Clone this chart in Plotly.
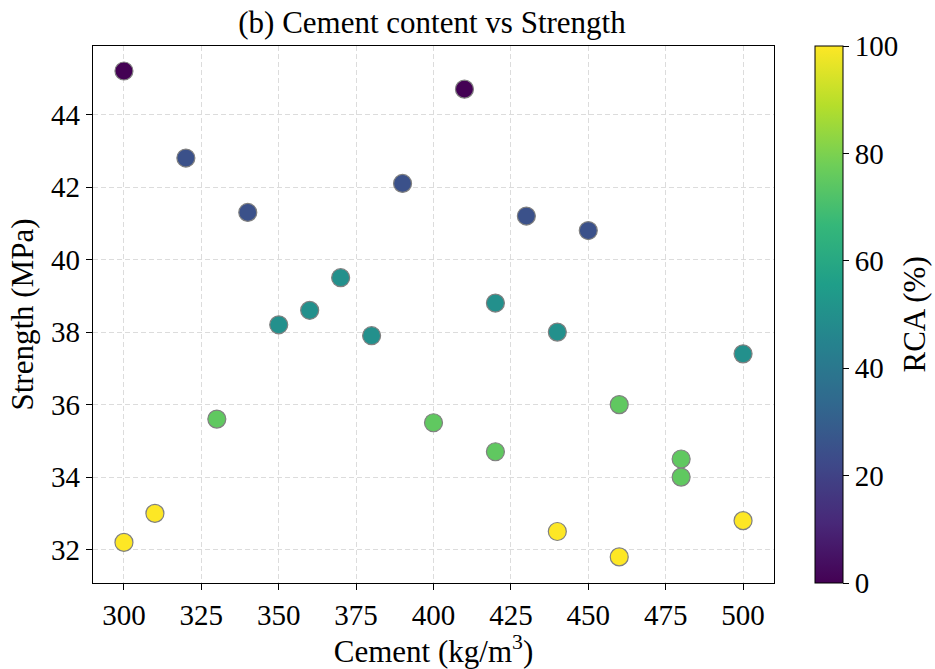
import plotly.graph_objects as go

# Mix data: cement content, compressive strength and recycled aggregate replacement
cement = [300, 410, 320, 340, 390, 430, 450, 370, 420, 350, 360, 380, 440, 500,
          330, 400, 420, 460, 480, 480, 300, 310, 440, 460, 500]
strength = [45.2, 44.7, 42.8, 41.3, 42.1, 41.2, 40.8, 39.5, 38.8, 38.2, 38.6, 37.9, 38.0, 37.4,
            35.6, 35.5, 34.7, 36.0, 34.5, 34.0, 32.2, 33.0, 32.5, 31.8, 32.8]
rca = [0, 0, 25, 25, 25, 25, 25, 50, 50, 50, 50, 50, 50, 50,
       75, 75, 75, 75, 75, 75, 100, 100, 100, 100, 100]

x_ticks = [300, 325, 350, 375, 400, 425, 450, 475, 500]
y_ticks = [32, 34, 36, 38, 40, 42, 44]
cbar_ticks = [0, 20, 40, 60, 80, 100]

FONT = "Liberation Serif, Times New Roman, serif"
TICK_SIZE = 29
LABEL_SIZE = 31

fig = go.Figure(
    go.Scatter(
        x=cement,
        y=strength,
        mode="markers",
        marker=dict(
            size=18,
            color=rca,
            colorscale="Viridis",
            cmin=0,
            cmax=100,
            line=dict(color="#808080", width=1.2),
            colorbar=dict(
                tickvals=cbar_ticks,
                tickfont=dict(size=TICK_SIZE, family=FONT),
                ticks="outside",
                ticklen=6,
                tickcolor="black",
                thickness=28,
                len=1,
                lenmode="fraction",
                y=0.5,
                yanchor="middle",
                x=1.0606,
                xanchor="left",
                xpad=0,
                ypad=0,
                outlinewidth=1,
                outlinecolor="black",
            ),
        ),
        showlegend=False,
    )
)

fig.update_layout(
    width=935,
    height=669,
    margin=dict(l=93, r=161, t=46, b=86),
    paper_bgcolor="white",
    plot_bgcolor="white",
    font=dict(family=FONT, color="black"),
    title=dict(
        text="(b) Cement content vs Strength",
        x=(237 + 627) / 2 / 935,
        xanchor="center",
        y=1 - 22 / 669,
        yanchor="middle",
        font=dict(size=LABEL_SIZE, family=FONT),
    ),
    # colorbar label, placed to the right of the colorbar tick labels
    annotations=[
        dict(
            text="RCA (%)",
            xref="paper",
            yref="paper",
            x=(914 - 93) / 681,
            y=0.5,
            xanchor="center",
            yanchor="middle",
            textangle=-90,
            showarrow=False,
            borderpad=0,
            font=dict(size=LABEL_SIZE, family=FONT),
        )
    ],
)

axis_style = dict(
    tickfont=dict(size=TICK_SIZE, family=FONT),
    ticks="outside",
    ticklen=6,
    tickcolor="black",
    showline=True,
    linecolor="black",
    linewidth=1.2,
    mirror=True,
    showgrid=True,
    gridcolor="#dcdcdc",
    griddash="5px,3px",
    gridwidth=1,
    zeroline=False,
    automargin=False,
)

fig.update_xaxes(
    range=[290, 510],
    tickvals=x_ticks,
    title=dict(text="Cement (kg/m<sup>3</sup>)", font=dict(size=LABEL_SIZE, family=FONT), standoff=14),
    **axis_style,
)

fig.update_yaxes(
    range=[31.08, 45.89],
    tickvals=y_ticks,
    title=dict(text="Strength (MPa)", font=dict(size=LABEL_SIZE, family=FONT), standoff=8),
    **axis_style,
)

fig.write_html("out.html")
